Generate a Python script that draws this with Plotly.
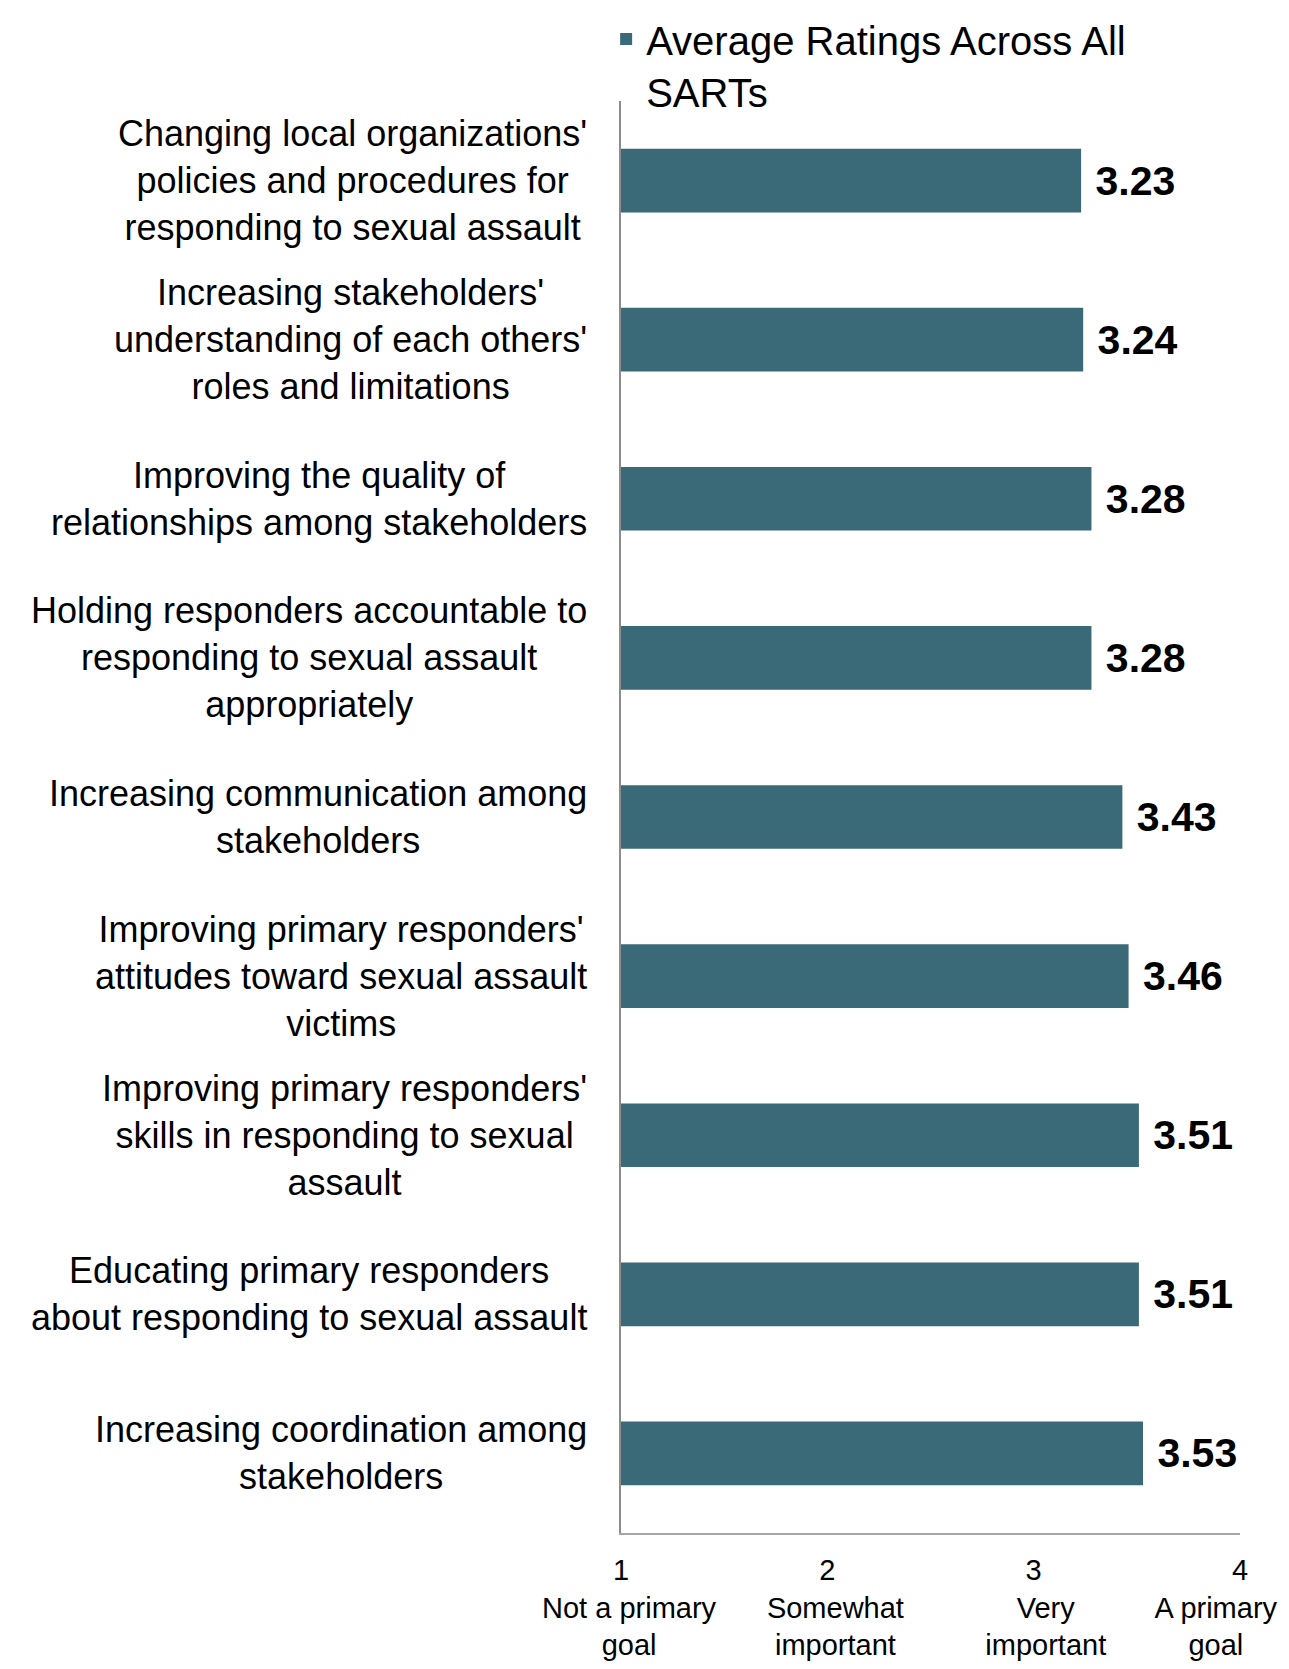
import plotly.graph_objects as go

categories = [
    "Changing local organizations'<br>policies and procedures for<br>responding to sexual assault",
    "Increasing stakeholders'<br>understanding of each others'<br>roles and limitations",
    "Improving the quality of<br>relationships among stakeholders",
    "Holding responders accountable to<br>responding to sexual assault<br>appropriately",
    "Increasing communication among<br>stakeholders",
    "Improving primary responders'<br>attitudes toward sexual assault<br>victims",
    "Improving primary responders'<br>skills in responding to sexual<br>assault",
    "Educating primary responders<br>about responding to sexual assault",
    "Increasing coordination among<br>stakeholders",
]
ratings = [3.23, 3.24, 3.28, 3.28, 3.43, 3.46, 3.51, 3.51, 3.53]
series_name = "Average Ratings Across All<br>SARTs"
tick_vals = [1, 2, 3, 4]
NB = "\u00a0"
tick_text = [
    "1<br>" + NB * 2 + "Not a primary<br>" + NB * 2 + "goal",
    "2<br>" + NB * 2 + "Somewhat<br>" + NB * 2 + "important",
    "3<br>" + NB * 3 + "Very<br>" + NB * 3 + "important",
    "4<br>A primary" + NB * 6 + "<br>goal" + NB * 6,
]

BAR_COLOR = "#3A6978"
FONT = "Liberation Sans, Arial, sans-serif"

fig = go.Figure()
fig.add_trace(go.Bar(
    y=categories,
    x=ratings,
    orientation="h",
    name=series_name,
    marker=dict(color=BAR_COLOR, line=dict(width=0)),
    texttemplate=NB + "%{x:.2f}",
    textposition="outside",
    textfont=dict(family=FONT, size=41, color="#000000", weight="bold"),
    constraintext="none",
    cliponaxis=False,
    showlegend=True,
))

annotations = []
for c in categories:
    annotations.append(dict(
        x=0, xref="paper", y=c, yref="y",
        text=c, showarrow=False,
        xanchor="right", yanchor="middle", align="center",
        xshift=-32,
        font=dict(family=FONT, size=36, color="#000000"),
    ))

fig.update_layout(
    width=1289, height=1669,
    margin=dict(l=613, r=57, t=93, b=144, autoexpand=False),
    paper_bgcolor="white", plot_bgcolor="white",
    bargap=0.6,
    font=dict(family=FONT, color="#000000"),
    showlegend=True,
    legend=dict(
        x=-0.024, xanchor="left",
        y=1.066, yanchor="top",
        font=dict(family=FONT, size=40, color="#000000"),
        valign="top",
        bgcolor="rgba(0,0,0,0)",
    ),
    xaxis=dict(
        range=[1, 4],
        tickvals=tick_vals,
        ticktext=tick_text,
        showline=True, linecolor="#A6A6A6", linewidth=2,
        showgrid=False, zeroline=False,
        ticks="",
        ticklabelstandoff=10,
        ticklabeloverflow="allow",
        tickfont=dict(family=FONT, size=29, color="#000000"),
    ),
    yaxis=dict(
        categoryorder="array", categoryarray=categories,
        autorange="reversed",
        showline=True, linecolor="#8C8C8C", linewidth=2,
        showgrid=False, zeroline=False,
        showticklabels=False,
        ticks="",
    ),
    annotations=annotations,
)

fig.write_html("out.html")
